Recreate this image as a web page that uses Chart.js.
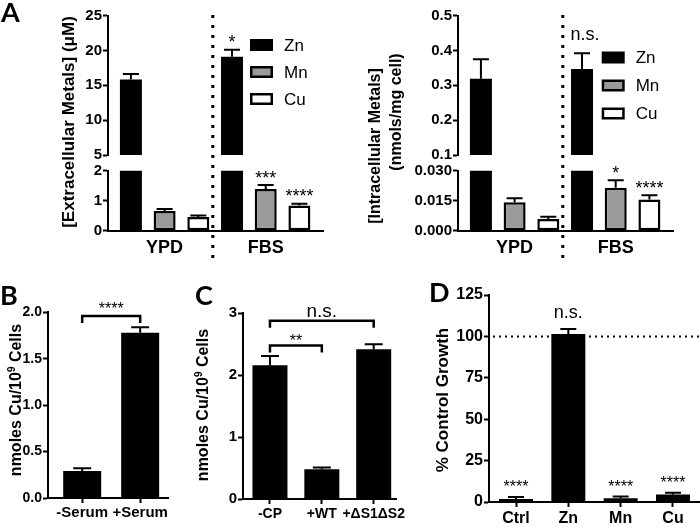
<!DOCTYPE html>
<html>
<head>
<meta charset="utf-8">
<script src="https://cdn.jsdelivr.net/npm/chart.js@4.4.1/dist/chart.umd.min.js"></script>
<style>
  html, body { margin: 0; padding: 0; background: #fff; }
  #fig { position: relative; width: 700px; height: 527px; overflow: hidden; }
  #fig canvas { position: absolute; left: 0; top: 0; }
</style>
</head>
<body>
<div id="fig"></div>
<script>
// ---- data ----
const media = ['YPD', 'FBS'];
const metals = ['Zn', 'Mn', 'Cu'];

// A, extracellular metals (uM), [YPD, FBS]
const extZn = [15.85, 19.1],  extZnErr = [0.78, 1.0];
const extMn = [0.66, 1.39],   extMnErr = [0.06, 0.13];
const extCu = [0.46, 0.84],   extCuErr = [0.045, 0.06];
const extSigZn = ['', '*'], extSigMn = ['', '***'], extSigCu = ['', '****'];
const extTopTicks = [5, 10, 15, 20, 25];
const extLowTicks = [0, 1, 2];

// A, intracellular metals (nmols/mg cell), [YPD, FBS]
const intZn = [0.319, 0.347],   intZnErr = [0.056, 0.045];
const intMn = [0.0142, 0.0215], intMnErr = [0.002, 0.0037];
const intCu = [0.0058, 0.0156], intCuErr = [0.0012, 0.0021];
const intSigZn = ['', 'n.s.'], intSigMn = ['', '*'], intSigCu = ['', '****'];
const intTopTicks = [0.1, 0.2, 0.3, 0.4, 0.5];
const intLowTicks = [0, 0.015, 0.03];

// B
const serumGroups = ['-Serum', '+Serum'];
const serumCu = [0.29, 1.78], serumErr = [0.03, 0.06];
const serumTicks = [0, 0.5, 1, 1.5, 2];
const serumBrackets = [[0, 1, 1.96, '****']];

// C
const cpGroups = ['-CP', '+WT', '+ΔS1ΔS2'];
const cpCu = [2.16, 0.48, 2.42], cpErr = [0.15, 0.03, 0.08];
const cpTicks = [0, 1, 2, 3];
const cpBrackets = [[0, 2, 2.88, 'n.s.'], [0, 1, 2.48, '**']];

// D
const growthGroups = ['Ctrl', 'Zn', 'Mn', 'Cu'];
const growth = [1.8, 101.5, 2.2, 4.5], growthErr = [1.2, 3, 1.1, 1.1];
const growthSig = ['****', 'n.s.', '****', '****'];
const growthTicks = [0, 25, 50, 75, 100, 125];
const growthRef = 100;

// ---- setup ----
const FONT = '"Liberation Sans", Arial, sans-serif';
const LETTER = 'Lato, "Open Sans", sans-serif';
Chart.defaults.font.family = FONT;
Chart.defaults.color = '#000';
const metalFill = ['#000000', '#9a9a9a', '#ffffff'];
const W = 700, H = 527;
const fig = document.getElementById('fig');

// plot boxes in page pixels
const extTopArea = {l: 108, t: 15.7, r: 323, b: 155};
const extLowArea = {l: 108, t: 170.7, r: 323, b: 230.7};
const intTopArea = {l: 458, t: 15.7, r: 673, b: 155};
const intLowArea = {l: 458, t: 170.7, r: 673, b: 230.7};
const serumArea = {l: 48, t: 312.3, r: 168, b: 498};
const cpArea = {l: 243, t: 313.3, r: 396, b: 499};
const growthArea = {l: 489, t: 295, r: 700, b: 502};

function yAxis(area, min, max, ticks, digits, size) {
  return {
    type: 'linear', position: 'left', min, max,
    afterBuildTicks: s => { s.ticks = ticks.map(v => ({value: v})); },
    afterFit: s => { s.width = area.l; },
    border: {display: true, color: '#000', width: 2, z: 1},
    grid: {drawOnChartArea: false, drawTicks: true, tickLength: 5, tickWidth: 2, tickColor: '#000'},
    ticks: {font: {size: size || 15, weight: 'bold'}, padding: 1, autoSkip: false,
            callback: v => v.toFixed(digits)}
  };
}

function xAxis(area, min, max, labels, first, step, o) {
  const pos = labels.map((_, i) => first + i * step);
  return {
    type: 'linear', position: 'bottom', min, max, offset: false,
    afterBuildTicks: s => { s.ticks = pos.map(v => ({value: v})); },
    afterFit: s => { s.height = H - area.b; },
    border: {display: o.line, color: '#000', width: 2, z: 1},
    grid: {display: o.line, offset: false, drawOnChartArea: false, drawTicks: o.marks, tickLength: 5, tickWidth: 2, tickColor: '#000'},
    ticks: {display: o.labels, font: {size: o.size || 15, weight: 'bold'}, padding: o.pad || 0,
            autoSkip: false, maxRotation: 0, callback: (v, i) => labels[i]}
  };
}

function metalSets(vals) {
  return metals.map((m, k) => ({
    label: m,
    data: media.map((_, g) => ({x: g * metals.length + k, y: vals[k][g]})),
    backgroundColor: metalFill[k], borderColor: '#000', borderWidth: k === 0 ? 0 : 2.5,
    borderSkipped: false, grouped: false, barPercentage: 1, maxBarThickness: 22, clip: 0
  }));
}

function blackSet(vals, width) {
  return [{
    data: vals.map((v, i) => ({x: i, y: v})),
    backgroundColor: '#000', grouped: false, barPercentage: 1, maxBarThickness: width, clip: 0
  }];
}

function mark(ctx, s, x, yc, size) {
  ctx.font = size + 'px ' + FONT;
  ctx.textAlign = 'center';
  ctx.textBaseline = 'alphabetic';
  const k = s.indexOf('*') >= 0 ? 0.58 : 0.26;
  ctx.fillText(s, x, yc + k * size);
}

// error bars (upper only, like Prism) and significance marks
function barExtras(errs, sigs, o) {
  return {
    id: 'barExtras',
    afterDatasetsDraw(chart) {
      const {ctx} = chart, y = chart.scales.y;
      ctx.save();
      ctx.strokeStyle = '#000';
      ctx.fillStyle = '#000';
      ctx.lineWidth = 2;
      chart.data.datasets.forEach((ds, k) => {
        chart.getDatasetMeta(k).data.forEach((bar, i) => {
          const v = ds.data[i].y;
          if (v < y.min || v > y.max) return;
          const y0 = y.getPixelForValue(v), y1 = y.getPixelForValue(v + errs[k][i]);
          ctx.beginPath();
          ctx.moveTo(bar.x, y0);
          ctx.lineTo(bar.x, y1);
          ctx.moveTo(bar.x - o.cap, y1);
          ctx.lineTo(bar.x + o.cap, y1);
          ctx.stroke();
          const s = sigs && sigs[k][i];
          if (s) {
            const star = s.indexOf('*') >= 0;
            mark(ctx, s, bar.x + (star ? 0 : (o.nsShift || 0)), y1 - (star ? o.star : o.ns),
                 star ? o.size : o.nsSize);
          }
        });
      });
      ctx.restore();
    }
  };
}

function brackets(list, leg, lift, size, nsSize) {
  return {
    id: 'brackets',
    afterDatasetsDraw(chart) {
      const {ctx} = chart, x = chart.scales.x, y = chart.scales.y;
      ctx.save();
      ctx.strokeStyle = '#000';
      ctx.fillStyle = '#000';
      ctx.lineWidth = 2.5;
      list.forEach(([a, b, level, label]) => {
        const x0 = x.getPixelForValue(a), x1 = x.getPixelForValue(b), yy = y.getPixelForValue(level);
        ctx.beginPath();
        ctx.moveTo(x0, yy + leg);
        ctx.lineTo(x0, yy);
        ctx.lineTo(x1, yy);
        ctx.lineTo(x1, yy + leg);
        ctx.stroke();
        mark(ctx, label, (x0 + x1) / 2, yy - lift, label.indexOf('*') >= 0 ? size : nsSize);
      });
      ctx.restore();
    }
  };
}

function vText(ctx, parts, cx, cy) {
  ctx.save();
  ctx.translate(cx, cy);
  ctx.rotate(-Math.PI / 2);
  ctx.textAlign = 'left';
  ctx.textBaseline = 'middle';
  ctx.fillStyle = '#000';
  let total = 0;
  parts.forEach(p => { ctx.font = p.f; p.w = ctx.measureText(p.t).width; total += p.w; });
  let x = -total / 2;
  parts.forEach(p => { ctx.font = p.f; ctx.fillText(p.t, x, p.dy || 0); x += p.w; });
  ctx.restore();
}

function letter(ctx, s, x, y) {
  ctx.save();
  ctx.font = 'bold 27px ' + LETTER;
  ctx.textAlign = 'left';
  ctx.textBaseline = 'alphabetic';
  ctx.fillStyle = '#000';
  ctx.fillText(s, x, y);
  ctx.restore();
}

function legend(ctx, x, y0, gap) {
  ctx.save();
  metals.forEach((m, k) => {
    const y = y0 + k * gap;
    ctx.fillStyle = '#000';
    ctx.fillRect(x, y - 6, 23, 12);
    if (k) {
      ctx.fillStyle = metalFill[k];
      ctx.fillRect(x + 2.5, y - 3.5, 18, 7);
    }
    ctx.fillStyle = '#000';
    ctx.font = '17px ' + FONT;
    ctx.textAlign = 'left';
    ctx.textBaseline = 'middle';
    ctx.fillText(m, x + 34, y + 1);
  });
  ctx.restore();
}

function divider(chart, at, y0, y1) {
  const ctx = chart.ctx, x = chart.scales.x.getPixelForValue(at);
  ctx.save();
  ctx.strokeStyle = '#000';
  ctx.lineWidth = 3;
  ctx.setLineDash([3, 7]);
  ctx.beginPath();
  ctx.moveTo(x, y0);
  ctx.lineTo(x, y1);
  ctx.stroke();
  ctx.restore();
}

function addChart(area, cfg) {
  const canvas = document.createElement('canvas');
  canvas.width = W;
  canvas.height = H;
  fig.appendChild(canvas);
  cfg.type = 'bar';
  cfg.options.responsive = false;
  cfg.options.animation = false;
  cfg.options.events = [];
  cfg.options.layout = {padding: {left: 0, top: area.t, right: W - area.r, bottom: 0}};
  cfg.options.plugins = {legend: {display: false}, tooltip: {enabled: false}};
  return new Chart(canvas, cfg);
}

// ---- A, extracellular ----
const extErrs = [extZnErr, extMnErr, extCuErr];
const extSigs = [extSigZn, extSigMn, extSigCu];
const aMarks = {cap: 8, size: 18, star: 12, ns: 18, nsSize: 18, nsShift: 3};

addChart(extTopArea, {
  data: {datasets: metalSets([extZn, extMn, extCu])},
  options: {scales: {
    x: xAxis(extTopArea, -0.68, 5.7, media, 1, 3, {line: false, marks: false, labels: false}),
    y: yAxis(extTopArea, 5, 25, extTopTicks, 0)
  }},
  plugins: [barExtras(extErrs, extSigs, aMarks)]
});

addChart(extLowArea, {
  data: {datasets: metalSets([extZn, extMn, extCu])},
  options: {scales: {
    x: xAxis(extLowArea, -0.68, 5.7, media, 1, 3, {line: true, marks: false, labels: true, size: 18, pad: 7}),
    y: yAxis(extLowArea, 0, 2, extLowTicks, 0)
  }},
  plugins: [barExtras(extErrs, extSigs, aMarks), {
    id: 'extDecor',
    afterDraw(c) {
      const ctx = c.ctx;
      letter(ctx, 'A', 1, 22);
      vText(ctx, [{t: '[Extracellular Metals] (μM)', f: 'bold 17px ' + FONT}], 69, 122);
      legend(ctx, 250, 45, 27);
      divider(c, 2.43, 15, 258);
    }
  }]
});

// ---- A, intracellular ----
const intErrs = [intZnErr, intMnErr, intCuErr];
const intSigs = [intSigZn, intSigMn, intSigCu];

addChart(intTopArea, {
  data: {datasets: metalSets([intZn, intMn, intCu])},
  options: {scales: {
    x: xAxis(intTopArea, -0.68, 5.7, media, 1, 3, {line: false, marks: false, labels: false}),
    y: yAxis(intTopArea, 0.1, 0.5, intTopTicks, 1)
  }},
  plugins: [barExtras(intErrs, intSigs, aMarks)]
});

addChart(intLowArea, {
  data: {datasets: metalSets([intZn, intMn, intCu])},
  options: {scales: {
    x: xAxis(intLowArea, -0.68, 5.7, media, 1, 3, {line: true, marks: false, labels: true, size: 18, pad: 7}),
    y: yAxis(intLowArea, 0, 0.03, intLowTicks, 3)
  }},
  plugins: [barExtras(intErrs, intSigs, aMarks), {
    id: 'intDecor',
    afterDraw(c) {
      const ctx = c.ctx;
      vText(ctx, [{t: '[Intracellular Metals]', f: 'bold 16px ' + FONT}], 376, 146);
      vText(ctx, [{t: '(nmols/mg cell)', f: 'bold 16px ' + FONT}], 397, 112);
      legend(ctx, 601.7, 57.5, 28);
      divider(c, 2.43, 15, 258);
    }
  }]
});

// ---- B ----
const cellsTitle = size => [
  {t: 'nmoles Cu/10', f: 'bold ' + size + 'px ' + FONT},
  {t: '9', f: 'bold ' + Math.round(size * 0.62) + 'px ' + FONT, dy: -5},
  {t: ' Cells', f: 'bold ' + size + 'px ' + FONT}
];

addChart(serumArea, {
  data: {datasets: blackSet(serumCu, 38)},
  options: {scales: {
    x: xAxis(serumArea, -0.59, 1.48, serumGroups, 0, 1, {line: true, marks: true, labels: true, size: 15, pad: 1}),
    y: yAxis(serumArea, 0, 2, serumTicks, 1, 14)
  }},
  plugins: [barExtras([serumErr], null, {cap: 9}), brackets(serumBrackets, 7, 11, 16, 18), {
    id: 'serumDecor',
    afterDraw(c) {
      const ctx = c.ctx;
      letter(ctx, 'B', 0, 305);
      vText(ctx, cellsTitle(16), 17, 400);
    }
  }]
});

// ---- C ----
addChart(cpArea, {
  data: {datasets: blackSet(cpCu, 35)},
  options: {scales: {
    x: xAxis(cpArea, -0.52, 2.43, cpGroups, 0, 1, {line: true, marks: true, labels: true, size: 14, pad: 2}),
    y: yAxis(cpArea, 0, 3, cpTicks, 0, 15)
  }},
  plugins: [barExtras([cpErr], null, {cap: 9}), brackets(cpBrackets, 7, 9, 16, 19), {
    id: 'cpDecor',
    afterDraw(c) {
      const ctx = c.ctx;
      letter(ctx, 'C', 195, 305);
      vText(ctx, cellsTitle(16), 204, 405);
    }
  }]
});

// ---- D ----
addChart(growthArea, {
  data: {datasets: blackSet(growth, 34)},
  options: {scales: {
    x: xAxis(growthArea, -0.516, 3.516, growthGroups, 0, 1, {line: true, marks: true, labels: true, size: 16, pad: 2}),
    y: yAxis(growthArea, 0, 125, growthTicks, 0, 16)
  }},
  plugins: [{
    id: 'refLine',
    beforeDatasetsDraw(c) {
      const ctx = c.ctx, yy = c.scales.y.getPixelForValue(growthRef);
      ctx.save();
      ctx.strokeStyle = '#000';
      ctx.lineWidth = 2;
      ctx.setLineDash([2, 4]);
      ctx.beginPath();
      ctx.moveTo(c.chartArea.left + 4, yy);
      ctx.lineTo(c.chartArea.right, yy);
      ctx.stroke();
      ctx.restore();
    }
  }, barExtras([growthErr], [growthSig], {cap: 8, size: 16, star: 14, ns: 16, nsSize: 18}), {
    id: 'growthDecor',
    afterDraw(c) {
      const ctx = c.ctx;
      letter(ctx, 'D', 429, 302);
      vText(ctx, [{t: '% Control Growth', f: 'bold 17px ' + FONT}], 443, 400);
    }
  }]
});
</script>
</body>
</html>
